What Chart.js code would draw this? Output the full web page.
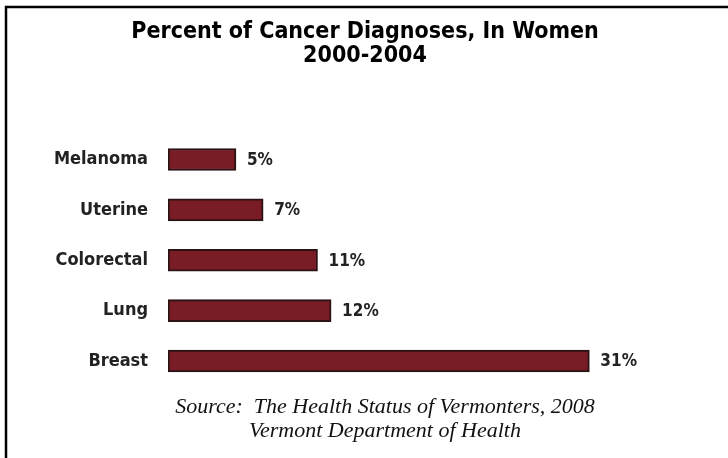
<!DOCTYPE html>
<html>
<head>
<meta charset="utf-8">
<script src="https://cdn.jsdelivr.net/npm/chart.js@4"></script>
<style>
  html, body { margin: 0; padding: 0; background: #fff; }
  #wrap { width: 728px; height: 458px; }
</style>
</head>
<body>
<div id="wrap"><canvas id="myChart" width="728" height="458"></canvas></div>
<script>
const cancerTypes = ["Melanoma", "Uterine", "Colorectal", "Lung", "Breast"];
const percents = [5, 7, 11, 12, 31];
const titleLines = ["Percent of Cancer Diagnoses, In Women", "2000-2004"];
const sourceLines = [
  "Source:  The Health Status of Vermonters, 2008",
  "Vermont Department of Health",
];

const condensed = "'DejaVu Sans Condensed', 'DejaVu Sans', sans-serif";

// frame lines, value labels and the source note
const extras = {
  id: "extras",
  afterDraw(chart) {
    const ctx = chart.ctx;
    ctx.save();
    ctx.strokeStyle = "#000";
    ctx.lineWidth = 2.5;
    ctx.beginPath();
    ctx.moveTo(6, 458);
    ctx.lineTo(6, 7);
    ctx.lineTo(728, 7);
    ctx.stroke();

    const meta = chart.getDatasetMeta(0);
    ctx.fillStyle = "#222";
    ctx.font = "bold 17px " + condensed;
    ctx.textBaseline = "middle";
    ctx.textAlign = "left";
    meta.data.forEach((bar, i) => {
      ctx.fillText(percents[i] + "%", bar.x + 11, bar.y + 1);
    });

    ctx.fillStyle = "#111";
    ctx.font = "italic 22px 'Liberation Serif'";
    ctx.textAlign = "center";
    ctx.textBaseline = "alphabetic";
    ctx.fillText(sourceLines[0], 385, 413);
    ctx.fillText(sourceLines[1], 385, 437);
    ctx.restore();
  },
};

const myChart = new Chart(document.getElementById("myChart"), {
  type: "bar",
  data: {
    labels: cancerTypes,
    datasets: [
      {
        data: percents,
        backgroundColor: "#7a1c26",
        borderColor: "#2b1214",
        borderWidth: 2,
        borderSkipped: false,
        barThickness: 22,
      },
    ],
  },
  options: {
    indexAxis: "y",
    responsive: false,
    animation: false,
    layout: {
      padding: { left: 2, right: 0, top: 0, bottom: 71.8 },
    },
    plugins: {
      legend: { display: false },
      tooltip: { enabled: false },
      title: {
        display: true,
        text: titleLines,
        color: "#000",
        font: { family: condensed, size: 23, weight: "bold", lineHeight: 1.05 },
        padding: { top: 20, bottom: 66 },
      },
    },
    scales: {
      x: {
        display: false,
        min: 0,
        max: 41.2,
      },
      y: {
        grid: { display: false, drawTicks: false },
        border: { display: false },
        afterFit(scale) {
          scale.width = 166;
        },
        ticks: {
          padding: 20,
          color: "#222",
          font: { family: condensed, size: 18, weight: "bold" },
        },
      },
    },
  },
  plugins: [extras],
});
</script>
</body>
</html>
